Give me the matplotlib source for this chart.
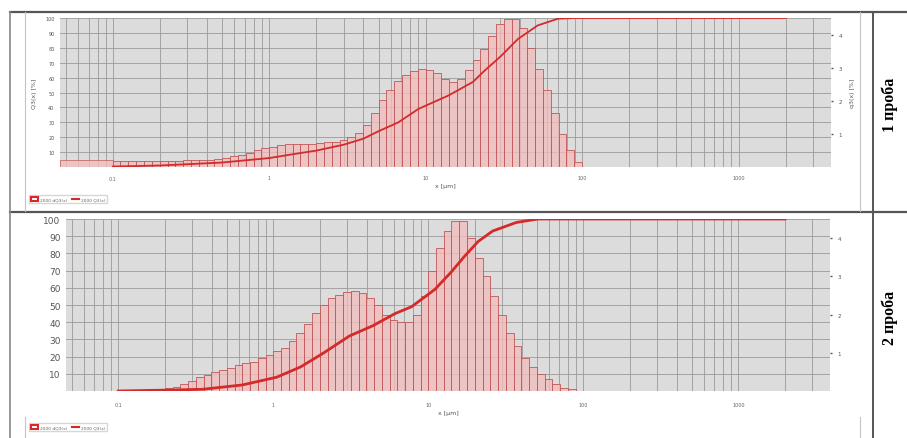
import numpy as np
import matplotlib.pyplot as plt
from matplotlib.lines import Line2D
from matplotlib.patches import Patch
from matplotlib.ticker import LogLocator, NullFormatter

# границы классов (мкм), общие для обеих проб
edges = [0.1, 0.112, 0.126, 0.141, 0.158, 0.178, 0.2, 0.224, 0.251, 0.282,
         0.316, 0.355, 0.398, 0.447, 0.501, 0.562, 0.631, 0.708, 0.794, 0.891,
         1.0, 1.12, 1.26, 1.41, 1.58, 1.78, 2.0, 2.24, 2.51, 2.82,
         3.16, 3.55, 3.98, 4.47, 5.01, 5.62, 6.31, 7.08, 7.94, 8.91,
         10, 11.2, 12.6, 14.1, 15.8, 17.8, 20, 22.4, 25.1, 28.2,
         31.6, 35.5, 39.8, 44.7, 50.1, 56.2, 63.1, 70.8, 79.4, 89.1, 100]

# проба 1: q3 [%] (правая ось)
q3_1 = [0.18, 0.18, 0.18, 0.18, 0.18, 0.18, 0.18, 0.18, 0.18, 0.20,
        0.20, 0.20, 0.22, 0.25, 0.27, 0.32, 0.36, 0.43, 0.50, 0.56,
        0.61, 0.65, 0.68, 0.68, 0.68, 0.70, 0.72, 0.74, 0.77, 0.81,
        0.90, 1.04, 1.26, 1.62, 2.03, 2.34, 2.61, 2.79, 2.90, 2.95,
        2.93, 2.84, 2.66, 2.57, 2.66, 2.93, 3.24, 3.56, 3.96, 4.32,
        4.46, 4.46, 4.19, 3.60, 2.97, 2.34, 1.62, 0.99, 0.50, 0.14]
# первый широкий класс пробы 1
low_edge_1 = [0.046, 0.1]
low_q3_1 = 0.22

Q3_x_1 = [0.1, 0.2, 0.5, 1, 1.5, 2, 3, 4, 5, 6.7, 9, 14, 20, 24, 30, 39, 52, 70, 90, 2000]
Q3_1 = [0.3, 1, 3, 6, 9, 11, 15, 19, 24, 30, 39, 48, 57, 65, 74, 86, 95, 99.5, 100, 100]

# проба 2
q3_2 = [0.01, 0.01, 0.02, 0.02, 0.04, 0.05, 0.07, 0.11, 0.18, 0.27,
        0.36, 0.43, 0.50, 0.56, 0.61, 0.68, 0.72, 0.77, 0.86, 0.95,
        1.04, 1.13, 1.31, 1.53, 1.76, 2.03, 2.25, 2.43, 2.52, 2.59,
        2.61, 2.57, 2.43, 2.25, 1.98, 1.85, 1.80, 1.80, 1.98, 2.48,
        3.15, 3.74, 4.19, 4.46, 4.46, 4.01, 3.47, 3.02, 2.48, 1.98,
        1.53, 1.17, 0.86, 0.63, 0.45, 0.32, 0.18, 0.09, 0.04, 0.01]

Q3_x_2 = [0.1, 0.2, 0.35, 0.63, 1.05, 1.5, 2.1, 3.1, 4.4, 6.1, 7.8, 11, 14, 17, 21, 26, 37, 51, 2000]
Q3_2 = [0, 0.5, 1, 3.5, 8, 14, 22, 32, 38, 45, 49, 59, 69, 78, 87, 93, 98, 100, 100]

x_ticks = [0.1, 1, 10, 100, 1000]
x_labels = ['0,1', '1', '10', '100', '1000']
left_ticks = [10, 20, 30, 40, 50, 60, 70, 80, 90, 100]
right_ticks = [1, 2, 3, 4]

W, H = 907, 439
fig = plt.figure(figsize=(W / 100, H / 100), dpi=100)

RED = '#d42a2a'
BG = '#dcdcdc'
BAR = (0.95, 0.74, 0.74, 0.75)
BAR_EDGE = '#c25656'


def fx(px):
    return px / W


def fy(py):
    return 1 - py / H


def fline(x0, y0, x1, y1, color, lw):
    fig.add_artist(Line2D([fx(x0), fx(x1)], [fy(y0), fy(y1)], color=color, lw=lw,
                          transform=fig.transFigure))


def chart(rect, q3, q3_edges, Q3x, Q3, lw_curve, left_fs, xpad, extra=None, ylabels=True):
    # ax: фон, сетка, левая ось; ax2: столбцы q3; ax3: кривая Q3
    ax = fig.add_axes(rect)
    ax2 = ax.twinx()
    ax3 = ax.twinx()
    ax.set_facecolor(BG)

    if extra is not None:
        ax2.bar(extra[0][0], extra[1], width=extra[0][1] - extra[0][0], align='edge',
                facecolor=BAR, edgecolor=BAR_EDGE, lw=0.5)
    e = np.array(q3_edges)
    ax2.bar(e[:-1], q3, width=np.diff(e), align='edge',
            facecolor=BAR, edgecolor=BAR_EDGE, lw=0.6)

    ax3.plot(Q3x, Q3, color=RED, lw=lw_curve)

    for a in (ax, ax2, ax3):
        a.set_xscale('log')
        a.set_xlim(0.046, 3900)
        for s in a.spines.values():
            s.set_visible(False)
    ax.set_ylim(0, 100)
    ax3.set_ylim(0, 100)
    ax3.set_yticks([])
    ax2.set_ylim(0, 4.5)

    ax.set_xticks(x_ticks)
    ax.set_xticklabels(x_labels)
    ax.xaxis.set_minor_locator(LogLocator(base=10, subs=np.arange(2, 10)))
    ax.xaxis.set_minor_formatter(NullFormatter())
    ax.grid(True, which='both', axis='x', color='#9a9a9a', lw=0.6)
    ax.set_yticks(left_ticks)
    ax.grid(True, which='major', axis='y', color='#9a9a9a', lw=0.6)
    ax.tick_params(axis='x', which='both', labelsize=3.5, colors='#666', length=0, pad=xpad)
    ax.tick_params(axis='y', labelsize=left_fs, colors='#555', length=0, pad=4)
    ax2.set_yticks(right_ticks)
    ax2.tick_params(axis='y', labelsize=4, colors='#555', length=1.5, width=1, pad=4)

    ax.set_xlabel('x [µm]', fontsize=4.5, color='#555', labelpad=2)
    if ylabels:
        ax.set_ylabel('Q3(x) [%]', fontsize=4.5, color='#555', labelpad=6)
        ax2.set_ylabel('q3(x) [%]', fontsize=4.5, color='#555', labelpad=6)
    return ax


# проба 1
chart([fx(60), fy(168), fx(831) - fx(60), fy(19) - fy(168)],
      q3_1, edges, Q3_x_1, Q3_1, 1.3, 3.5, 6, extra=(low_edge_1, low_q3_1))
# проба 2
chart([fx(66), fy(392), fx(830) - fx(66), fy(220) - fy(392)],
      q3_2, edges, Q3_x_2, Q3_2, 2.0, 6.5, 8, ylabels=False)

# рамки таблицы
fline(10, 13, 907, 13, '#555', 1.6)
fline(10, 213, 907, 213, '#555', 1.6)
fline(873, 13, 873, 439, '#555', 1.4)
fline(10, 13, 10, 439, '#888', 1.2)
fline(25, 13, 25, 212, '#c4c4c4', 0.8)
fline(860, 13, 860, 212, '#c4c4c4', 0.8)
fline(25, 418, 25, 439, '#c4c4c4', 0.8)
fline(860, 418, 860, 439, '#c4c4c4', 0.8)

# легенды
handles = [Patch(facecolor='white', edgecolor=RED, lw=1.5),
           Line2D([0], [0], color=RED, lw=1.5)]
labels = ['2000 dQ3(x)', '2000 Q3(x)']
for yy in (200, 428):
    fig.legend(handles, labels, loc='center left', bbox_to_anchor=(fx(27), fy(yy)),
               ncol=2, fontsize=3.2, frameon=True, edgecolor='#cccccc', fancybox=False,
               handlelength=1.6, handleheight=1.2, columnspacing=1.0, handletextpad=0.4,
               borderpad=0.4, labelcolor='#666')

fig.text(fx(890), fy(105), '1 проба', rotation=90, ha='center', va='center',
         fontsize=11.5, fontweight='bold', family='Liberation Serif')
fig.text(fx(890), fy(318), '2 проба', rotation=90, ha='center', va='center',
         fontsize=11.5, fontweight='bold', family='Liberation Serif')

fig.savefig('out.png', dpi=100, facecolor='white')
